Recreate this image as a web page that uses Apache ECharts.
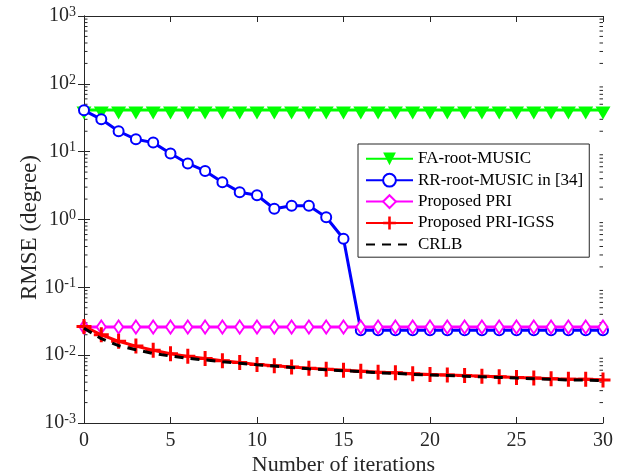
<!DOCTYPE html>
<html><head><meta charset="utf-8">
<script src="https://cdn.jsdelivr.net/npm/echarts@6/dist/echarts.min.js"></script>
<style>html,body{margin:0;padding:0;background:#fff}#c{width:626px;height:474px}</style>
</head><body><div id="c"></div>
<script>
const iterations = [0,1,2,3,4,5,6,7,8,9,10,11,12,13,14,15,16,17,18,19,20,21,22,23,24,25,26,27,28,29,30];
const faRootMusic = [41,41,41,41,41,41,41,41,41,41,41,41,41,41,41,41,41,41,41,41,41,41,41,41,41,41,41,41,41,41,41];
const rrRootMusic = [40.7,30,20,15.2,13.6,9.4,6.7,5.2,3.55,2.53,2.28,1.44,1.59,1.59,1.08,0.52,0.0232,0.0232,0.0232,0.0232,0.0232,0.0232,0.0232,0.0232,0.0232,0.0232,0.0232,0.0232,0.0232,0.0232,0.0232];
const proposedPRI = [0.026,0.026,0.026,0.026,0.026,0.026,0.026,0.026,0.026,0.026,0.026,0.026,0.026,0.026,0.026,0.026,0.026,0.026,0.026,0.026,0.026,0.026,0.026,0.026,0.026,0.026,0.026,0.026,0.026,0.026,0.026];
const proposedPRIIGSS = [0.0265,0.020,0.016,0.0136,0.0118,0.0105,0.0096,0.0089,0.0083,0.0078,0.0073,0.0070,0.0067,0.0064,0.0062,0.0060,0.0058,0.0056,0.0055,0.0053,0.0052,0.0051,0.0050,0.0049,0.0048,0.0047,0.0046,0.0045,0.0044,0.0044,0.0043];
const crlb = [0.025,0.0175,0.0138,0.0120,0.0106,0.0097,0.0090,0.0085,0.0080,0.0076,0.0072,0.0069,0.0066,0.0063,0.0061,0.0059,0.0057,0.0055,0.0054,0.0052,0.0051,0.0050,0.0049,0.0048,0.0047,0.0046,0.0045,0.0044,0.0043,0.0043,0.0042];
const seriesNames = ['FA-root-MUSIC','RR-root-MUSIC in [34]','Proposed PRI','Proposed PRI-IGSS','CRLB'];
const xTickInterval = 5;
const yDecades = [-3,-2,-1,0,1,2];
const minorMultipliers = [2,3,4,5,6,7,8,9];

const minorTickValues = [];
yDecades.forEach(d => minorMultipliers.forEach(m => minorTickValues.push(m * Math.pow(10, d))));

const FONT = 'Liberation Serif';
const AX = '#262626';
const pairs = arr => iterations.map((x, i) => [x, arr[i]]);
const plusPath = 'path://M6,0H9V6H15V9H9V15H6V9H0V6H6Z';

const chart = echarts.init(document.getElementById('c'));
const commonX = {
  type: 'value', min: 0, max: 30, interval: xTickInterval,
  axisLine: { show: true, lineStyle: { color: AX, width: 1 } },
  axisTick: { show: true, inside: true, length: 6, lineStyle: { color: AX } },
  splitLine: { show: false }
};
const commonY = {
  type: 'log', logBase: 10, min: 0.001, max: 1000, interval: 1, splitNumber: 6,
  axisLine: { show: true, lineStyle: { color: AX, width: 1 } },
  axisTick: { show: true, inside: true, length: 6, lineStyle: { color: AX } },
  splitLine: { show: false }, minorTick: { show: false }
};
chart.setOption({
  animation: false,
  backgroundColor: '#fff',
  grid: { left: 84, right: 23, top: 16, bottom: 51, containLabel: false, outerBoundsMode: 'none' },
  xAxis: [
    Object.assign({}, commonX, {
      position: 'bottom',
      axisLabel: { fontFamily: FONT, fontSize: 20, color: AX, margin: 8 },
      name: 'Number of iterations', nameLocation: 'middle', nameGap: 31, nameMoveOverlap: false,
      nameTextStyle: { fontFamily: FONT, fontSize: 22, color: AX }
    }),
    Object.assign({}, commonX, { position: 'top', axisLabel: { show: false } })
  ],
  yAxis: [
    Object.assign({}, commonY, {
      position: 'left',
      axisLabel: {
        margin: 8,
        formatter: v => '{b|10}{s|' + Math.round(Math.log10(v)) + '}',
        rich: {
          b: { fontFamily: FONT, fontSize: 20, color: AX, lineHeight: 22 },
          s: { fontFamily: FONT, fontSize: 14, color: AX, verticalAlign: 'top', lineHeight: 14, padding: [0, 0, 10, 0] }
        }
      },
      name: 'RMSE (degree)', nameLocation: 'middle', nameGap: 43, nameMoveOverlap: false,
      nameTextStyle: { fontFamily: FONT, fontSize: 23, color: AX, padding: [0, 16, 0, 0] }
    }),
    Object.assign({}, commonY, { position: 'right', axisLabel: { show: false } })
  ],
  legend: {
    data: seriesNames.slice(0, 4).concat([{ name: seriesNames[4], itemStyle: { opacity: 0 } }]),
    orient: 'vertical', left: 358, top: 144,
    itemWidth: 47, itemHeight: 16, itemGap: 4.4,
    padding: [6.3, 6, 4.3, 7],
    borderColor: AX, borderWidth: 1, backgroundColor: '#fff',
    textStyle: { fontFamily: FONT, fontSize: 17, lineHeight: 16, color: '#000' }
  },
  series: [
    { name: seriesNames[0], type: 'line', data: pairs(faRootMusic), symbol: 'triangle', symbolRotate: 180,
      symbolSize: [15, 13], symbolOffset: [0, 3], color: '#00ff00',
      itemStyle: { color: '#00ff00' }, lineStyle: { color: '#00ff00', width: 3 }, z: 2 },
    { name: seriesNames[1], type: 'line', data: pairs(rrRootMusic), symbol: 'emptyCircle', symbolSize: 10,
      color: '#0000ff', itemStyle: { color: '#0000ff', borderColor: '#0000ff', borderWidth: 3 },
      lineStyle: { color: '#0000ff', width: 3 }, z: 3 },
    { name: seriesNames[2], type: 'line', data: pairs(proposedPRI), symbol: 'emptyDiamond', symbolSize: [9, 13],
      color: '#ff00ff', itemStyle: { color: '#ff00ff', borderColor: '#ff00ff', borderWidth: 2.5 },
      lineStyle: { color: '#ff00ff', width: 3 }, z: 4 },
    { name: seriesNames[3], type: 'line', data: pairs(proposedPRIIGSS), symbol: plusPath, symbolSize: 15,
      color: '#ff0000', itemStyle: { color: '#ff0000' }, lineStyle: { color: '#ff0000', width: 3 }, z: 5 },
    { name: seriesNames[4], type: 'line', data: pairs(crlb), symbol: 'none', color: '#000',
      lineStyle: { color: '#000', width: 3, type: [9, 7] }, z: 6 },
    { type: 'custom', coordinateSystem: 'cartesian2d', xAxisIndex: 0, yAxisIndex: 0, silent: true, clip: false,
      data: minorTickValues.map(v => [0, v]), encode: { x: 0, y: 1 }, z: 1,
      renderItem: (params, api) => {
        const v = api.value(1);
        const pL = api.coord([0, v]);
        const pR = api.coord([30, v]);
        return { type: 'group', children: [
          { type: 'line', shape: { x1: pL[0], y1: pL[1], x2: pL[0] + 3.5, y2: pL[1] }, style: { stroke: AX, lineWidth: 1 } },
          { type: 'line', shape: { x1: pR[0] - 3.5, y1: pR[1], x2: pR[0], y2: pR[1] }, style: { stroke: AX, lineWidth: 1 } }
        ] };
      } }
  ]
});
</script></body></html>
